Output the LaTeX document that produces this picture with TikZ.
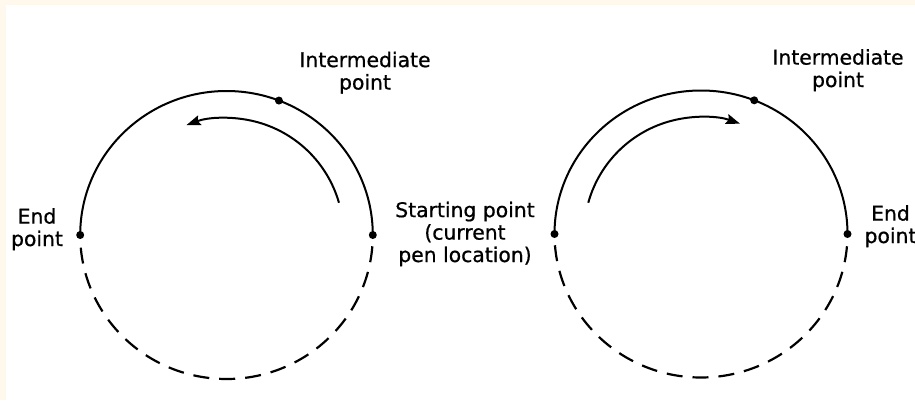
\documentclass[tikz,border=0pt]{standalone}
\usepackage{fontspec}
\setmainfont{DejaVu Sans}
\newfontfamily\lblfont{DejaVu Sans}[FakeBold=0.7]
\usetikzlibrary{arrows.meta}
\definecolor{cream}{HTML}{FFF8EC}
\begin{document}
\begin{tikzpicture}[x=1bp,y=1bp,
  lbl/.style={font=\lblfont\fontsize{20.4}{22.5}\selectfont, align=center, inner sep=0pt, anchor=base},
  solidarc/.style={line width=2bp},
  dasharc/.style={line width=2.2bp, dash pattern=on 16bp off 10bp},
  flow/.style={line width=2bp, -{Stealth[length=14bp,width=10bp,inset=2bp]}},
  pt/.style={circle, fill=black, inner sep=0pt, minimum size=8bp}]
\fill[cream] (0,0) rectangle (915,400);
\fill[white] (5.5,0) rectangle (915,394.5);
\useasboundingbox (0,0) rectangle (915,400);
% left circle
\coordinate (L) at (226.5,165);
\node[pt] (Lend) at ([shift={(180:146.3 and 144)}]L) {};
\node[pt] (Lstart) at ([shift={(0:146.3 and 144)}]L) {};
\node[pt] (Lmid) at ([shift={(69:146.3 and 144)}]L) {};
\draw[solidarc] (Lstart.center) arc[start angle=0,end angle=180,x radius=146.3,y radius=144];
\draw[dasharc] ([shift={(-4.5:146.3 and 144)}]L) arc[start angle=-4.5,end angle=-175.5,x radius=146.3,y radius=144];
\draw[flow] ([shift={(16:117)}]L) arc[start angle=16,end angle=110,radius=117];
% right circle
\coordinate (R) at (701,166);
\node[pt] (Rstart) at ([shift={(180:146.5 and 143.5)}]R) {};
\node[pt] (Rend) at ([shift={(0:146.5 and 143.5)}]R) {};
\node[pt] (Rmid) at ([shift={(68.7:146.5 and 143.5)}]R) {};
\draw[solidarc] (Rstart.center) arc[start angle=180,end angle=0,x radius=146.5,y radius=143.5];
\draw[dasharc] ([shift={(184.5:146.5 and 143.5)}]R) arc[start angle=184.5,end angle=355.5,x radius=146.5,y radius=143.5];
\draw[flow] ([shift={(164.5:117)}]R) arc[start angle=164.5,end angle=70.5,radius=117];
% labels (base anchor = baseline of last line)
\node[lbl] (tLmid) at (365,310.5) {Intermediate\\point};
\node[lbl] (tRmid) at (838,313) {Intermediate\\point};
\node[lbl] (tLend) at (37,154) {End\\point};
\node[lbl] (tRend) at (890.5,157) {End\\point};
\node[lbl] (tstart) at (465,138) {Starting point\\(current\\pen location)};
\end{tikzpicture}
\end{document}
